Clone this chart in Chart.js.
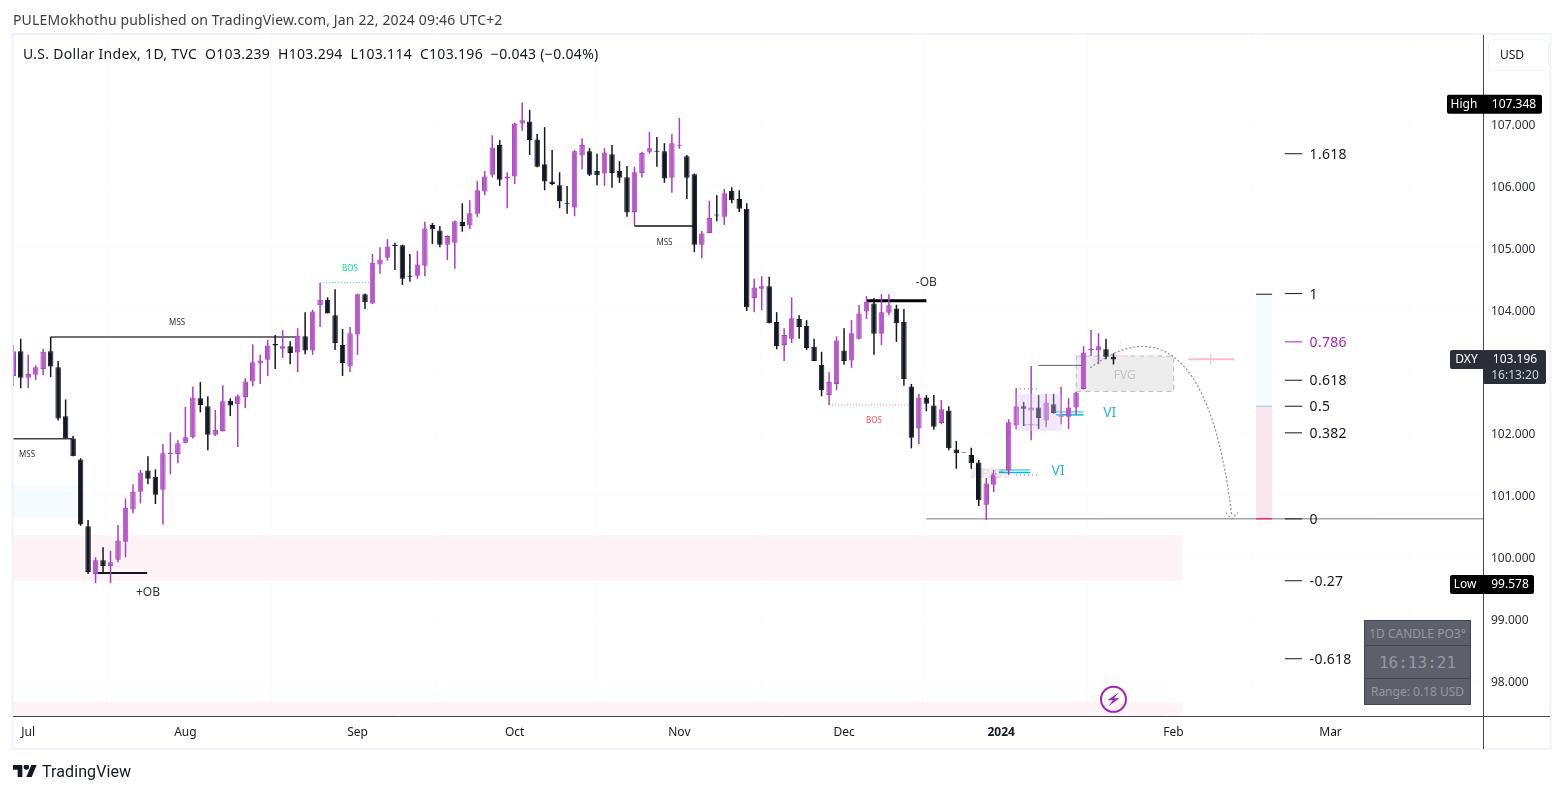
<!DOCTYPE html>
<html>
<head>
<meta charset="utf-8">
<title>U.S. Dollar Index</title>
<script src="https://cdn.jsdelivr.net/npm/chart.js@4/dist/chart.umd.min.js"></script>
<style>
body { margin: 0; background: #fff; font-family: "Noto Sans", sans-serif; color: #131722; }
#wrap { position: relative; width: 1563px; height: 793px; overflow: hidden; }
canvas { position: absolute; left: 0; top: 0; }
.txt { position: absolute; white-space: pre; }
#published { left: 13px; top: 10px; font-size: 14px; color: #3a3d47; letter-spacing: 0.15px; }
#legend { left: 23px; top: 44px; font-size: 14px; color: #131722; letter-spacing: 0.3px; }
#brand { left: 42px; top: 762px; font-size: 16px; font-weight: 400; font-family: Roboto, sans-serif; color: #131722; letter-spacing: 0.1px; }
#logo { position: absolute; left: 13px; top: 765px; }
#usd { position: absolute; left: 1488px; top: 39px; width: 48px; height: 30px; padding-left: 11px; border: 1px solid #f0f3fa; border-radius: 6px;
       font-size: 12px; line-height: 30px; color: #131722; }
#panel { position: absolute; left: 1364px; top: 620px; width: 105px; height: 83px; background: #5d606b; border: 1px solid #434651; color: #9598a1; text-align: center; }
#panel div { border-bottom: 1px solid #434651; box-sizing: border-box; }
#panel div:last-child { border-bottom: 0; }
#p1 { height: 25px; font-size: 12px; line-height: 25px; }
#p2 { height: 33px; font-size: 16px; line-height: 33px; font-family: "DejaVu Sans Mono", monospace; }
#p3 { height: 25px; font-size: 12px; line-height: 25px; }
</style>
</head>
<body>
<div id="wrap">
  <canvas id="chart" width="1563" height="793"></canvas>
  <div class="txt" id="published">PULEMokhothu published on TradingView.com, Jan 22, 2024 09:46 UTC+2</div>
  <div class="txt" id="legend">U.S. Dollar Index, 1D, TVC  O103.239  H103.294  L103.114  C103.196  −0.043 (−0.04%)</div>
  <div id="usd">USD</div>
  <div id="panel">
    <div id="p1">1D CANDLE PO3°</div>
    <div id="p2">16:13:21</div>
    <div id="p3">Range: 0.18 USD</div>
  </div>
  <svg id="logo" width="24" height="12" viewBox="0 4 36 18"><path fill="#131722" d="M14 22H7V11H0V4h14v18zM28 22h-8l7.5-18h8L28 22z"/><circle fill="#131722" cx="20" cy="7" r="4"/></svg>
  <div class="txt" id="brand">TradingView</div>
</div>
<script>
// daily candles, one per weekday, starting end of June 2023
var opens = [102.93,103.33,102.90,102.95,103.04,103.33,103.07,102.28,101.92,101.58,
  100.50,99.73,99.95,99.86,99.96,100.25,100.77,101.06,101.40,101.30,
  101.09,101.67,101.67,101.85,101.94,102.57,102.44,101.98,102.04,102.53,
  102.47,102.59,102.84,103.13,103.19,103.45,103.37,103.41,103.31,103.57,
  103.34,104.07,104.16,103.91,103.43,103.08,103.60,104.25,104.10,104.73,
  104.84,105.05,105.04,104.54,104.55,104.71,105.37,105.28,105.05,105.08,
  105.42,105.36,105.55,105.91,106.18,106.66,106.12,106.15,107.01,107.04,
  106.75,106.35,106.07,106.01,105.72,105.65,106.49,106.56,106.24,106.20,
  106.51,106.24,106.14,105.58,106.21,106.55,106.56,106.56,106.13,106.65,
  106.48,106.19,105.05,105.24,105.53,105.50,105.92,105.79,105.63,104.19,
  104.34,104.38,103.80,103.43,103.53,103.85,103.74,103.40,103.11,102.62,
  102.80,103.34,103.18,103.53,103.97,104.10,103.61,103.95,104.02,103.80,
  102.76,102.08,102.58,102.45,102.17,102.37,101.74,101.69,101.65,101.53,
  100.85,101.17,101.37,101.40,102.13,102.44,102.37,102.42,102.21,102.47,
  102.27,102.27,102.42,102.72,103.35,103.34,103.36,103.239];
var highs = [103.43,103.53,103.27,103.10,103.37,103.56,103.17,102.55,101.96,101.60,
  100.60,100.00,100.16,100.10,100.52,100.95,101.18,101.41,101.63,101.42,
  101.83,102.02,101.89,102.43,102.76,102.83,102.60,102.38,102.78,102.57,
  102.63,102.89,103.44,103.27,103.51,103.59,103.67,103.49,103.70,103.96,
  104.00,104.43,104.20,104.33,103.69,103.72,104.26,104.26,104.90,105.01,
  105.14,105.08,105.05,104.90,104.95,105.42,105.40,105.35,105.20,105.44,
  105.72,105.77,106.08,106.24,106.82,106.74,106.22,107.02,107.348,107.23,
  106.84,106.95,106.58,106.22,106.00,106.58,106.77,106.61,106.52,106.61,
  106.66,106.40,106.32,106.31,106.55,106.87,106.79,106.69,106.84,107.10,
  106.50,106.20,105.27,105.76,105.85,105.95,105.98,105.93,105.72,104.50,
  104.54,104.53,103.96,103.70,104.20,103.91,103.83,103.53,103.32,102.99,
  103.57,103.70,103.83,104.08,104.22,104.19,104.25,104.25,104.08,104.01,
  102.80,102.64,102.62,102.62,102.54,102.44,101.88,101.70,101.77,101.57,
  101.28,101.41,101.38,102.23,102.73,102.51,103.09,102.62,102.64,102.64,
  102.75,102.57,102.67,103.41,103.67,103.62,103.53,103.294];
var lows = [102.77,102.73,102.73,102.86,102.94,102.91,102.21,101.92,101.63,100.51,
  99.73,99.58,99.75,99.58,99.92,100.00,100.71,100.87,101.18,100.86,
  100.53,101.34,101.52,101.84,101.92,102.34,101.73,101.96,102.03,102.28,
  101.78,102.41,102.76,102.80,102.93,103.04,103.22,103.12,102.99,103.28,
  103.27,103.72,103.94,103.35,102.93,102.99,103.27,104.01,104.09,104.58,
  104.79,104.64,104.40,104.45,104.50,104.54,105.06,105.01,104.80,104.66,
  105.26,105.30,105.50,105.85,106.14,106.00,105.64,106.03,106.89,106.50,
  106.30,105.93,106.01,105.64,105.55,105.51,106.27,106.16,106.01,106.00,
  105.97,106.05,105.50,105.35,106.13,106.52,106.31,106.05,105.89,106.60,
  105.79,104.93,104.83,105.24,105.43,105.37,105.72,105.58,103.98,103.96,
  103.99,103.78,103.36,103.17,103.46,103.53,103.35,103.17,102.60,102.46,
  102.70,103.11,103.06,103.52,103.85,103.27,103.43,103.91,103.48,102.77,
  101.76,101.83,102.36,102.06,102.15,101.73,101.43,101.69,101.43,100.83,
  100.60,101.05,101.37,101.33,102.07,102.12,101.89,102.07,102.10,102.32,
  102.15,102.07,102.30,102.71,103.25,103.12,103.20,103.114];
var closes = [103.33,102.90,102.96,103.07,103.32,103.08,102.24,101.92,101.63,100.53,
  99.76,99.95,99.86,99.92,100.27,100.80,101.06,101.37,101.27,101.01,
  101.68,101.68,101.84,101.94,102.58,102.46,101.98,102.06,102.52,102.45,
  102.60,102.84,103.15,103.18,103.42,103.42,103.41,103.30,103.58,103.34,
  103.97,104.16,103.94,103.46,103.14,103.62,104.25,104.12,104.76,104.81,
  105.02,105.03,104.50,104.53,104.73,105.31,105.30,105.05,105.19,105.43,
  105.35,105.56,105.93,106.15,106.62,106.10,106.15,107.01,107.06,106.74,
  106.31,106.07,106.03,105.75,105.71,106.56,106.66,106.18,106.17,106.54,
  106.21,106.13,105.57,106.22,106.53,106.61,106.55,106.12,106.69,106.66,
  106.13,105.05,105.23,105.48,105.52,105.88,105.77,105.63,104.04,104.36,
  104.38,103.78,103.41,103.59,103.86,103.72,103.38,103.17,102.70,102.83,
  103.50,103.17,103.62,103.94,104.13,103.61,103.96,104.07,103.78,102.88,
  101.93,102.58,102.48,102.11,102.39,101.76,101.68,101.70,101.52,100.92,
  101.19,101.37,101.38,102.18,102.44,102.40,102.42,102.25,102.50,102.33,
  102.29,102.42,102.66,103.31,103.36,103.41,103.24,103.196];

var monthBars = [2, 23, 46, 67, 89, 111, 132, 155, 176];
var monthLabels = ['Jul', 'Aug', 'Sep', 'Oct', 'Nov', 'Dec', '2024', 'Feb', 'Mar'];
var priceTicks = [107, 106, 105, 104, 103, 102, 101, 100, 99, 98];

var fibNames = ['1.618', '1', '0.786', '0.618', '0.5', '0.382', '0', '-0.27', '-0.618'];
var fibPrices = [106.52, 104.26, 103.48, 102.86, 102.44, 102.01, 100.62, 99.62, 98.36];

var upFill = '#b55cc4', upLine = '#a93fbf', downFill = '#131722';
var fontName = '"Noto Sans", sans-serif';

var bodies = [], wicks = [], bodyFill = [], bodyLine = [], wickColor = [];
for (var i = 0; i < opens.length; i++) {
  var up = closes[i] >= opens[i];
  bodies.push({ x: i, y: [opens[i], closes[i]] });
  wicks.push({ x: i, y: [lows[i], highs[i]] });
  bodyFill.push(up ? upFill : downFill);
  bodyLine.push(up ? upLine : downFill);
  wickColor.push(up ? upLine : downFill);
}

// drawn under the candles: [bar from, bar to, price top, price bottom, colour]
var zones = [
  [-1, 8.5, 101.17, 100.65, '#f5fbfe'],
  [-1, 156.15, 100.36, 99.62, '#fef4f7'],
  [-1, 156.15, 97.66, 97.3, '#fef4f7'],
  [166.04, 168.2, 104.25, 102.44, '#f3fbfd'],
  [166.04, 168.2, 102.44, 100.62, '#fce4ec'],
  [128, 133, 101.43, 101.29, '#f1f1f1'],
  [142.03, 155.04, 103.25, 102.68, '#ececec']
];
// also under the candles: [bar from, price, bar to, price, colour, width, dash]
var segments = [
  [-1, 101.915, 7.9, 101.915, '#444444', 1.5],
  [5, 103.56, 37.7, 103.56, '#444444', 1.5],
  [5, 103.56, 5, 103.34, '#444444', 1],
  [11.3, 99.745, 17.9, 99.745, '#131722', 2],
  [41, 104.44, 47.7, 104.44, '#3ce8a0', 1, [1, 2]],
  [83, 105.35, 90.8, 105.35, '#111111', 1.5],
  [114, 104.145, 122, 104.145, '#000000', 3],
  [109, 102.46, 119.7, 102.46, '#f77f8c', 1, [1, 2]],
  [122, 100.62, 197, 100.62, '#787b86', 1],
  [166.04, 104.25, 168.2, 104.25, '#131722', 1],
  [166.04, 102.44, 168.2, 102.44, '#81d4ea', 1],
  [166.04, 100.62, 168.2, 100.62, '#f50057', 1],
  [157, 103.2, 163.1, 103.2, '#f8bbd0', 2],
  [160, 103.294, 160, 103.114, '#f8bbd0', 1],
  [137, 103.1, 143, 103.1, '#5d606b', 1],
  [134, 102.72, 137, 102.72, '#666666', 1, [1, 3]],
  [135, 102.14, 137, 102.14, '#b9b2bf', 1.5, [3, 1]],
  [134, 101.33, 137, 101.33, '#666666', 1, [1, 3]],
  [131.7, 101.41, 135.9, 101.41, '#80deea', 2],
  [131.7, 101.37, 135.9, 101.37, '#00bcd4', 1.5],
  [139.3, 102.35, 143, 102.35, '#80deea', 2],
  [139.3, 102.3, 143, 102.3, '#00bcd4', 1.5],
  [146.2, 103.25, 149, 103.25, '#f3d9ef', 2],
  [148, 103.5, 148, 103.05, '#f8e8ee', 1]
];
// [text, bar, price, css font, colour]
var notes = [
  ['MSS', 1.85, 101.67, '8px', '#333333'],
  ['MSS', 21.9, 103.8, '8px', '#333333'],
  ['+OB', 18, 99.44, '12px', '#333333'],
  ['BOS', 45, 104.67, '8px', '#00e68a'],
  ['MSS', 87, 105.09, '8px', '#333333'],
  ['-OB', 122, 104.45, '12px', '#333333'],
  ['BOS', 115, 102.22, '8px', '#ff5252'],
  ['FVG', 130.7, 101.36, '11px', '#e0e0e0'],
  ['FVG', 148.5, 102.95, '12px', '#c4c4c4'],
  ['VI', 139.6, 101.41, '14px', '#26b6d8'],
  ['VI', 146.5, 102.35, '14px', '#26b6d8']
];

var overlays = {
  id: 'overlays',
  beforeDatasetsDraw: function (chart) {
    var c = chart.ctx, xs = chart.scales.x, ys = chart.scales.y, a = chart.chartArea;
    var px = function (v) { return xs.getPixelForValue(v); };
    var py = function (v) { return ys.getPixelForValue(v); };
    c.save();
    c.beginPath();
    c.rect(a.left, a.top, a.width, a.height);
    c.clip();
    zones.forEach(function (z) {
      c.fillStyle = z[4];
      c.fillRect(px(z[0]), py(z[2]), px(z[1]) - px(z[0]), py(z[3]) - py(z[2]));
    });

    // dashed outlines of the two gaps
    c.lineWidth = 1;
    c.setLineDash([5, 4]);
    c.strokeStyle = '#b9bbc2';
    c.strokeRect(px(142.03), py(103.25), px(155.04) - px(142.03), py(102.68) - py(103.25));
    c.strokeStyle = '#e2e3e6';
    c.strokeRect(px(128), py(101.43), px(133) - px(128), py(101.29) - py(101.43));
    c.setLineDash([]);

    segments.forEach(function (s) {
      c.strokeStyle = s[4];
      c.lineWidth = s[5];
      c.setLineDash(s[6] || []);
      c.beginPath();
      c.moveTo(px(s[0]), py(s[1]));
      c.lineTo(px(s[2]), py(s[3]));
      c.stroke();
    });
    c.setLineDash([]);
    c.restore();
  },
  afterDatasetsDraw: function (chart) {
    var c = chart.ctx, xs = chart.scales.x, ys = chart.scales.y, a = chart.chartArea;
    var px = function (v) { return xs.getPixelForValue(v); };
    var py = function (v) { return ys.getPixelForValue(v); };
    c.save();
    c.beginPath();
    c.rect(a.left, a.top, a.width, a.height);
    c.clip();

    // purple range box sits over the candles
    c.fillStyle = 'rgba(223,194,247,0.37)';
    c.fillRect(px(134), py(102.64), px(140.1) - px(134), py(102.04) - py(102.64));

    // fib ladder
    fibNames.forEach(function (name, k) {
      var col = name === '0.786' ? '#a51fbf' : '#131722';
      c.strokeStyle = col;
      c.lineWidth = 1;
      c.beginPath();
      c.moveTo(px(169.9), py(fibPrices[k]));
      c.lineTo(px(172.2), py(fibPrices[k]));
      c.stroke();
      c.fillStyle = col;
      c.font = '14px ' + fontName;
      c.letterSpacing = '0.3px';
      c.textAlign = 'left';
      c.textBaseline = 'middle';
      c.fillText(name, px(173.2), py(fibPrices[k]) + 1);
    });
    c.letterSpacing = '0px';

    notes.forEach(function (n) {
      c.font = n[3] + ' ' + fontName;
      c.fillStyle = n[4];
      c.textAlign = 'center';
      c.textBaseline = 'middle';
      c.fillText(n[0], px(n[1]), py(n[2]) + 1);
    });

    // projected path with arrow head
    c.strokeStyle = '#8a8d96';
    c.lineWidth = 1.2;
    c.setLineDash([2, 2]);
    c.beginPath();
    c.moveTo(px(143.9), py(103.06));
    c.bezierCurveTo(px(151.4), py(103.74), px(159.9), py(103.64), px(162.8), py(100.67));
    c.stroke();
    c.beginPath();
    c.moveTo(px(162.0), py(100.72));
    c.lineTo(px(162.8), py(100.62));
    c.lineTo(px(163.6), py(100.72));
    c.stroke();
    c.setLineDash([]);

    // lightning badge
    var bx = px(147), by = py(97.704);
    c.strokeStyle = '#9c27b0';
    c.lineWidth = 2;
    c.beginPath();
    c.arc(bx, by, 12.5, 0, Math.PI * 2);
    c.stroke();
    c.fillStyle = '#9c27b0';
    c.beginPath();
    c.moveTo(bx + 5.5, by - 7);
    c.lineTo(bx - 6, by + 1);
    c.lineTo(bx - 0.5, by + 1);
    c.lineTo(bx - 5, by + 7);
    c.lineTo(bx + 6, by - 1);
    c.lineTo(bx + 0.5, by - 1);
    c.closePath();
    c.fill();
    c.restore();
  },
  afterDraw: function (chart) {
    var c = chart.ctx, ys = chart.scales.y, a = chart.chartArea;
    c.save();
    // frame and axis extensions
    c.strokeStyle = '#f0f3fa';
    c.lineWidth = 2;
    c.strokeRect(12.5, 34, 1538, 715);
    c.strokeStyle = '#434651';
    c.lineWidth = 1;
    c.beginPath();
    c.moveTo(a.right + 0.5, 35);
    c.lineTo(a.right + 0.5, 749);
    c.moveTo(a.left, a.bottom + 0.5);
    c.lineTo(1550, a.bottom + 0.5);
    c.stroke();

    var tag = function (left, right, price, name, value, nameX, valueX) {
      var y = ys.getPixelForValue(price);
      c.fillStyle = '#000000';
      c.beginPath();
      c.roundRect(left, y - 9.5, right - left, 19, 2);
      c.fill();
      c.fillStyle = '#ffffff';
      c.textAlign = 'center';
      c.textBaseline = 'middle';
      c.font = '12px ' + fontName;
      c.fillText(name, nameX, y);
      c.fillText(value, valueX, y);
    };
    tag(1447, 1542, 107.32, 'High', '107.348', 1464, 1514);
    tag(1450, 1534, 99.56, 'Low', '99.578', 1465, 1510);

    // current price label
    var y0 = ys.getPixelForValue(103.196);
    c.fillStyle = '#2a2e39';
    c.beginPath();
    c.roundRect(1450, y0 - 9.5, 34, 19, 2);
    c.fill();
    c.beginPath();
    c.roundRect(1483, y0 - 9.5, 63, 34, 2);
    c.fill();
    c.fillStyle = '#ffffff';
    c.textAlign = 'center';
    c.textBaseline = 'middle';
    c.font = '12px ' + fontName;
    c.fillText('DXY', 1466.5, y0);
    c.fillText('103.196', 1515, y0);
    c.fillStyle = '#d1d4dc';
    c.fillText('16:13:20', 1515, y0 + 16.5);
    c.restore();
  }
};

new Chart(document.getElementById('chart').getContext('2d'), {
  type: 'bar',
  data: {
    datasets: [
      { data: wicks, backgroundColor: wickColor, barThickness: 1.5, grouped: false, order: 2, inflateAmount: 0 },
      { data: bodies, backgroundColor: bodyFill, borderColor: bodyLine, borderWidth: 1, borderSkipped: false,
        barThickness: 5.5, minBarLength: 1, grouped: false, order: 1, inflateAmount: 0 }
    ]
  },
  options: {
    responsive: false,
    animation: false,
    layout: { padding: { left: 13, top: 35, right: 13, bottom: 44 } },
    plugins: { legend: { display: false }, tooltip: { enabled: false } },
    scales: {
      x: {
        type: 'linear',
        offset: false,
        min: -0.03,
        max: 196.37,
        afterBuildTicks: function (s) {
          s.ticks = monthBars.map(function (b) { return { value: b }; });
        },
        afterFit: function (s) { s.height = 33; },
        grid: { color: '#fafbfd', drawTicks: false },
        border: { display: false },
        ticks: {
          autoSkip: false,
          maxRotation: 0,
          padding: 9,
          color: '#131722',
          font: function (ctx) {
            return { family: fontName, size: 12, weight: ctx.index === 6 ? 'bold' : 'normal' };
          },
          callback: function (v, idx) { return monthLabels[idx]; }
        }
      },
      y: {
        position: 'right',
        min: 97.435,
        max: 108.438,
        afterBuildTicks: function (s) {
          s.ticks = priceTicks.map(function (p) { return { value: p }; });
        },
        afterFit: function (s) { s.width = 67; },
        grid: { color: '#fafbfd', drawTicks: false },
        border: { display: false },
        ticks: {
          padding: 8,
          labelOffset: 1.5,
          color: '#2a2e39',
          font: { family: fontName, size: 12 },
          callback: function (v) { return v.toFixed(3); }
        }
      }
    }
  },
  plugins: [overlays]
});
</script>
</body>
</html>
